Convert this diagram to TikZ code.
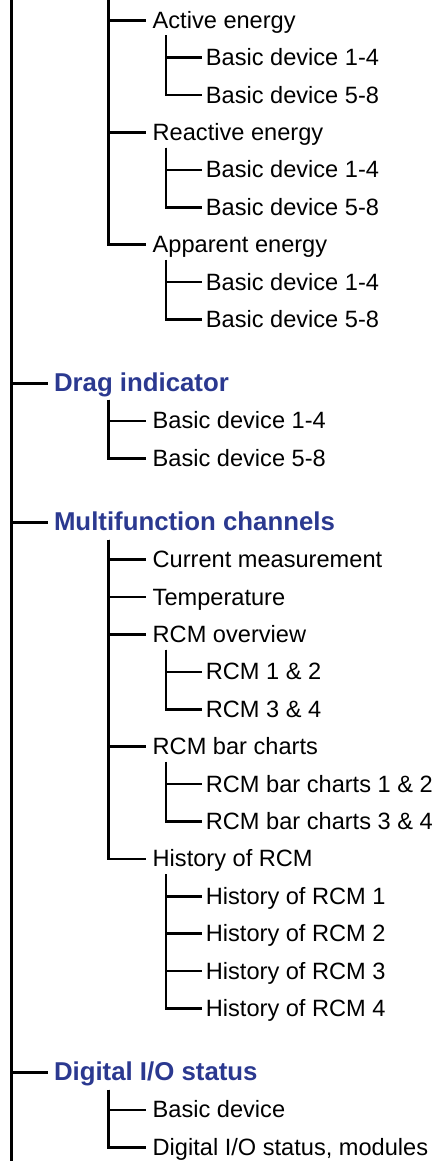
\documentclass[tikz,border=0pt]{standalone}
\usepackage{fontspec}
\setmainfont{Liberation Sans}
\usetikzlibrary{calc,positioning}
\definecolor{MTBlue}{HTML}{2B3990}
\definecolor{MTInk}{HTML}{000000}
\tikzset{
  mtHead/.style={
    anchor=west, inner xsep=5.5pt, inner ysep=0pt,
    text height=16pt, text depth=0pt, text=MTBlue,
    font=\fontsize{25.8}{30}\selectfont\bfseries
  },
  mtItem/.style={
    anchor=west, inner xsep=7pt, inner ysep=0pt,
    text height=16pt, text depth=0pt, text=MTInk,
    font=\fontsize{23.6}{28}\selectfont
  },
  mtSub/.style={
    anchor=west, inner xsep=4pt, inner ysep=0pt,
    text height=16pt, text depth=0pt, text=MTInk,
    font=\fontsize{23.6}{28}\selectfont
  },
  mtBranch/.style={draw=MTInk, line width=2.7pt}
}
\begin{document}
\begin{tikzpicture}[x=1pt, y=1pt, node distance=37.4pt]
  \useasboundingbox (0,0) rectangle (437,-1161);

  \coordinate (rootTop) at (11.7,0);
  \coordinate (rootEnd) at (11.7,-1161);
  \coordinate (energyTop) at (108.5,0);

  % energy pages
  \node[mtItem] (active) at (145.5,-20.3) {Active energy};
  \node[mtSub, below=of active.west, anchor=west, xshift=56.2pt] (active1) {Basic device 1-4};
  \node[mtSub, below=of active1.west, anchor=west] (active2) {Basic device 5-8};
  \node[mtItem, below=of active2.west, anchor=west, xshift=-56.2pt] (reactive) {Reactive energy};
  \node[mtSub, below=of reactive.west, anchor=west, xshift=56.2pt] (reactive1) {Basic device 1-4};
  \node[mtSub, below=of reactive1.west, anchor=west] (reactive2) {Basic device 5-8};
  \node[mtItem, below=of reactive2.west, anchor=west, xshift=-56.2pt] (apparent) {Apparent energy};
  \node[mtSub, below=of apparent.west, anchor=west, xshift=56.2pt] (apparent1) {Basic device 1-4};
  \node[mtSub, below=of apparent1.west, anchor=west] (apparent2) {Basic device 5-8};

  % drag indicator
  \node[mtHead, below=64pt of apparent2.west, anchor=west, xshift=-153.4pt] (drag) {Drag indicator};
  \node[mtItem, below=of drag.west, anchor=west, xshift=97.2pt] (drag1) {Basic device 1-4};
  \node[mtItem, below=of drag1.west, anchor=west] (drag2) {Basic device 5-8};

  % multifunction channels
  \node[mtHead, below=64pt of drag2.west, anchor=west, xshift=-97.2pt] (multi) {Multifunction channels};
  \node[mtItem, below=of multi.west, anchor=west, xshift=97.2pt] (current) {Current measurement};
  \node[mtItem, below=of current.west, anchor=west] (temp) {Temperature};
  \node[mtItem, below=of temp.west, anchor=west] (rcm) {RCM overview};
  \node[mtSub, below=of rcm.west, anchor=west, xshift=56.2pt] (rcm1) {RCM 1 \& 2};
  \node[mtSub, below=of rcm1.west, anchor=west] (rcm2) {RCM 3 \& 4};
  \node[mtItem, below=of rcm2.west, anchor=west, xshift=-56.2pt] (bars) {RCM bar charts};
  \node[mtSub, below=of bars.west, anchor=west, xshift=56.2pt] (bars1) {RCM bar charts 1 \& 2};
  \node[mtSub, below=of bars1.west, anchor=west] (bars2) {RCM bar charts 3 \& 4};
  \node[mtItem, below=of bars2.west, anchor=west, xshift=-56.2pt] (hist) {History of RCM};
  \node[mtSub, below=of hist.west, anchor=west, xshift=56.2pt] (hist1) {History of RCM 1};
  \node[mtSub, below=of hist1.west, anchor=west] (hist2) {History of RCM 2};
  \node[mtSub, below=of hist2.west, anchor=west] (hist3) {History of RCM 3};
  \node[mtSub, below=of hist3.west, anchor=west] (hist4) {History of RCM 4};

  % digital I/O
  \node[mtHead, below=64pt of hist4.west, anchor=west, xshift=-153.4pt] (digital) {Digital I/O status};
  \node[mtItem, below=of digital.west, anchor=west, xshift=97.2pt] (digital1) {Basic device};
  \node[mtItem, below=of digital1.west, anchor=west] (digital2) {Digital I/O status, modules};

  % trunk tops
  \coordinate (activeT) at ($(active.south west)+(20.5,-7)$);
  \coordinate (reactiveT) at ($(reactive.south west)+(20.5,-7)$);
  \coordinate (apparentT) at ($(apparent.south west)+(20.5,-7)$);
  \coordinate (dragT) at ($(drag.south west)+(60.2,-8)$);
  \coordinate (multiT) at ($(multi.south west)+(60.2,-9)$);
  \coordinate (rcmT) at ($(rcm.south west)+(20.5,-7)$);
  \coordinate (barsT) at ($(bars.south west)+(20.5,-7)$);
  \coordinate (histT) at ($(hist.south west)+(20.5,-7)$);
  \coordinate (digitalT) at ($(digital.south west)+(60.2,-9)$);

  \draw[mtBranch] (rootTop) -- (rootEnd);
  \draw[mtBranch] (rootTop) |- (drag.west);
  \draw[mtBranch] (rootTop) |- (multi.west);
  \draw[mtBranch] (rootTop) |- (digital.west);

  \draw[mtBranch] (energyTop) |- (active.west);
  \draw[mtBranch] (energyTop) |- (reactive.west);
  \draw[mtBranch] (energyTop) |- (apparent.west);
  \draw[mtBranch] (activeT) |- (active1.west);
  \draw[mtBranch] (activeT) |- (active2.west);
  \draw[mtBranch] (reactiveT) |- (reactive1.west);
  \draw[mtBranch] (reactiveT) |- (reactive2.west);
  \draw[mtBranch] (apparentT) |- (apparent1.west);
  \draw[mtBranch] (apparentT) |- (apparent2.west);

  \draw[mtBranch] (dragT) |- (drag1.west);
  \draw[mtBranch] (dragT) |- (drag2.west);

  \draw[mtBranch] (multiT) |- (current.west);
  \draw[mtBranch] (multiT) |- (temp.west);
  \draw[mtBranch] (multiT) |- (rcm.west);
  \draw[mtBranch] (multiT) |- (bars.west);
  \draw[mtBranch] (multiT) |- (hist.west);
  \draw[mtBranch] (rcmT) |- (rcm1.west);
  \draw[mtBranch] (rcmT) |- (rcm2.west);
  \draw[mtBranch] (barsT) |- (bars1.west);
  \draw[mtBranch] (barsT) |- (bars2.west);
  \draw[mtBranch] (histT) |- (hist1.west);
  \draw[mtBranch] (histT) |- (hist2.west);
  \draw[mtBranch] (histT) |- (hist3.west);
  \draw[mtBranch] (histT) |- (hist4.west);

  \draw[mtBranch] (digitalT) |- (digital1.west);
  \draw[mtBranch] (digitalT) |- (digital2.west);
\end{tikzpicture}
\end{document}
